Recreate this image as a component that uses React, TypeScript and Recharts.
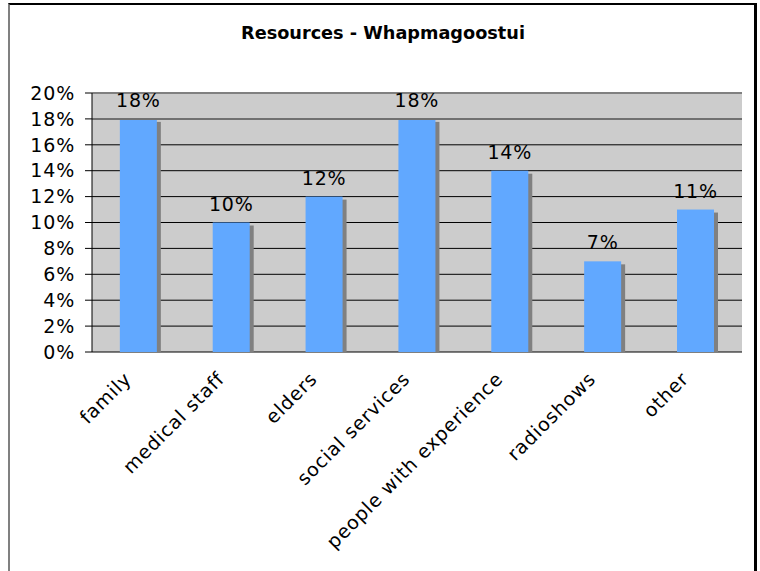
import { BarChart, Bar, XAxis, YAxis, CartesianGrid, ReferenceLine, LabelList } from 'recharts';

const categories = [
  'family',
  'medical staff',
  'elders',
  'social services',
  'people with experience',
  'radioshows',
  'other',
];
const shares = [18, 10, 12, 18, 14, 7, 11];
const yTicks = [0, 2, 4, 6, 8, 10, 12, 14, 16, 18, 20];
const edgeTicks = [0, 1, 2, 3, 4, 5, 6, 7];

const rows = categories.map((name, i) => ({ name, value: shares[i] }));

const FONT = '"DejaVu Sans", Verdana, sans-serif';
const textStyle = { fontSize: 19, fontFamily: FONT, fill: '#000', letterSpacing: 0.8 };

// Excel-style bar: flat gray drop shadow behind the blue column
const ShadowBar = (props: any) => {
  const { x, y, width, height } = props;
  if (!height || height <= 0) return null;
  return (
    <g>
      <rect x={x + 4} y={y + 3} width={width} height={height - 3} fill='#808080' />
      <rect x={x} y={y} width={width} height={height} fill='#61A8FF' />
    </g>
  );
};

const CategoryTick = (props: any) => {
  const { x, y, payload } = props;
  const ax = x - 16;
  const ay = y + 18;
  return (
    <text
      x={ax}
      y={ay}
      transform={`rotate(-45, ${ax}, ${ay})`}
      textAnchor='end'
      dominantBaseline='hanging'
      style={textStyle}
    >
      {payload.value}
    </text>
  );
};

export default function App() {
  return (
    <div style={{ position: 'absolute', left: 0, top: 0, width: 760, height: 571, overflow: 'hidden', background: '#fff' }}>
      <div
        style={{
          position: 'absolute',
          left: 8,
          top: 3,
          width: 744,
          height: 620,
          borderLeft: '2px solid #808080',
          borderTop: '2px solid #000',
          borderRight: '3px solid #000',
        }}
      />
      <div
        style={{
          position: 'absolute',
          left: 0,
          top: 23,
          width: 766,
          textAlign: 'center',
          fontFamily: FONT,
          fontWeight: 'bold',
          fontSize: 17.7,
          color: '#000',
        }}
      >
        Resources - Whapmagoostui
      </div>
      <div style={{ position: 'absolute', left: 0, top: 0 }}>
        <BarChart width={760} height={571} data={rows} margin={{ top: 93, right: 18, bottom: 19, left: 12 }} barCategoryGap='30%'>
          <CartesianGrid vertical={false} fill='#CCCCCC' stroke='#000' strokeOpacity={1} />
          <XAxis
            xAxisId='edges'
            type='number'
            domain={[0, 7]}
            ticks={edgeTicks}
            tick={false}
            tickSize={7}
            height={0}
            axisLine={{ stroke: '#000' }}
            tickLine={{ stroke: '#000' }}
          />
          <XAxis
            xAxisId='cat'
            dataKey='name'
            height={200}
            interval={0}
            tickSize={0}
            tickMargin={0}
            axisLine={false}
            tickLine={false}
            tick={<CategoryTick />}
          />
          <YAxis
            domain={[0, 20]}
            ticks={yTicks}
            interval={0}
            width={80}
            tickSize={7}
            tickMargin={10}
            tickFormatter={(v: number) => `${v}%`}
            tick={textStyle}
            axisLine={{ stroke: '#000' }}
            tickLine={{ stroke: '#000' }}
          />
          <YAxis
            yAxisId='frame'
            orientation='right'
            domain={[0, 20]}
            width={0}
            tick={false}
            tickLine={false}
            axisLine={{ stroke: '#808080', strokeWidth: 2 }}
          />
          <ReferenceLine y={20} stroke='#808080' strokeWidth={2} xAxisId='cat' />
          <ReferenceLine y={18} stroke='#707070' strokeWidth={2} xAxisId='cat' />
          <Bar dataKey='value' xAxisId='cat' shape={<ShadowBar />} isAnimationActive={false}>
            <LabelList
              dataKey='value'
              position='top'
              offset={12}
              formatter={(v: any) => `${v}%`}
              style={textStyle}
            />
          </Bar>
        </BarChart>
      </div>
    </div>
  );
}
